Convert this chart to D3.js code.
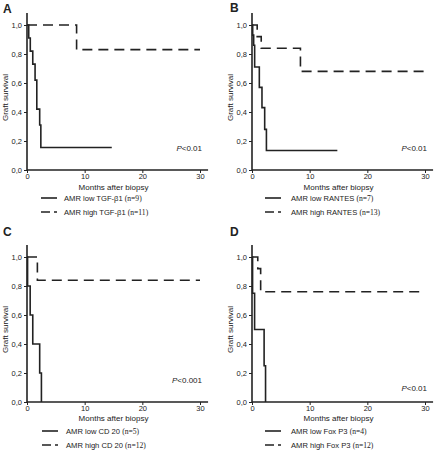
<!DOCTYPE html>
<html><head><meta charset="utf-8">
<script src="https://cdn.jsdelivr.net/npm/d3@7"></script>
<style>body{margin:0;background:#fff}svg{display:block}text{font-family:"Liberation Sans",Arial,sans-serif;fill:#222}</style>
</head><body><svg id="c" width="436" height="451"></svg>
<script>
const panelLabels = ["A","B","C","D"];
const xTicks = [0,10,20,30];
const yTicks = [0,0.2,0.4,0.6,0.8,1.0];
const yTickLabels = ["0,0","0,2","0,4","0,6","0,8","1,0"];
const xTitle = "Months after biopsy";
const yTitle = "Graft survival";
const pValues = ["<0.01","<0.01","<0.001","<0.01"];
const lowNames = ["AMR low TGF-β1 ","AMR low RANTES ","AMR low CD 20 ","AMR low Fox P3 "];
const highNames = ["AMR high TGF-β1 ","AMR high RANTES ","AMR high CD 20 ","AMR high Fox P3 "];
const lowN = ["(n=9)","(n=7)","(n=5)","(n=4)"];
const highN = ["(n=11)","(n=13)","(n=12)","(n=12)"];
// low groups: times (months) and survival
const lowTimes = [
  [0,0.3,0.57,1.0,1.4,1.7,2.2,2.4,14.7],
  [0,0.12,0.29,0.46,1.27,1.73,2.2,2.5,14.8],
  [0,0.1,0.55,1.0,2.2,2.5],
  [0,0.1,0.45,2.1,2.35]
];
const lowSurv = [
  [1,0.91,0.82,0.73,0.62,0.42,0.31,0.155,0.155],
  [1,0.93,0.86,0.71,0.57,0.43,0.28,0.135,0.135],
  [1,0.8,0.6,0.4,0.2,0],
  [1,0.75,0.5,0.25,0]
];
const highTimes = [
  [0,8.6,30],
  [0,0.9,1.6,8.4,30],
  [0,1.8,30],
  [0,1.0,1.5,30]
];
const highSurv = [
  [1,0.83,0.83],
  [1,0.92,0.84,0.68,0.68],
  [1,0.84,0.84],
  [1,0.92,0.76,0.76]
];

// layout per panel
const layout = [
  {lx:3, ly:13, ax:27, x30:200, y0:170, y1:25, legX:41, legT:64, leg1:198, leg2:212, titleY:190, ytitleX:8, pY:151},
  {lx:230, ly:12, ax:252, x30:425, y0:170, y1:25, legX:265, legT:291, leg1:198, leg2:212, titleY:190, ytitleX:233, pY:151},
  {lx:3, ly:236, ax:27, x30:200, y0:402, y1:257, legX:42, legT:66, leg1:431, leg2:445, titleY:421, ytitleX:8, pY:383},
  {lx:230, ly:236, ax:252, x30:425, y0:402, y1:257, legX:265, legT:291, leg1:431, leg2:445, titleY:421, ytitleX:233, pY:391}
];

const svg = d3.select("#c");
const col = "#222";

layout.forEach((L,i)=>{
  const x = d3.scaleLinear().domain([0,30]).range([L.ax, L.x30]);
  const y = d3.scaleLinear().domain([0,1]).range([L.y0, L.y1]);
  const g = svg.append("g");
  g.append("text").attr("x",L.lx).attr("y",L.ly).text(panelLabels[i])
    .attr("font-size",12).attr("font-weight","bold");
  // axes
  const xa = g.append("g").attr("transform",`translate(0,${L.y0})`)
    .call(d3.axisBottom(x).tickValues(xTicks).tickSize(3).tickPadding(1).tickFormat(d3.format("d")));
  xa.select(".domain").attr("d",`M${L.ax},0H${x(31.4)}`);
  const ya = g.append("g").attr("transform",`translate(${L.ax},0)`)
    .call(d3.axisLeft(y).tickValues(yTicks).tickSize(3).tickPadding(2).tickFormat((d,j)=>yTickLabels[j]));
  ya.select(".domain").attr("d",`M0,${y(1.083)}V${L.y0}`);
  [xa,ya].forEach(a=>{
    a.select(".domain").attr("stroke",col).attr("stroke-width",1.6);
    a.selectAll(".tick line").attr("stroke",col).attr("stroke-width",1);
    a.selectAll(".tick text").attr("font-size",7.5).attr("fill",col).attr("font-family","Liberation Sans, Arial, sans-serif");
  });
  g.append("text").attr("x",(L.ax+L.x30)/2).attr("y",L.titleY).attr("text-anchor","middle")
    .attr("font-size",8).text(xTitle);
  g.append("text").attr("transform",`translate(${L.ytitleX},${(L.y0+L.y1)/2}) rotate(-90)`)
    .attr("text-anchor","middle").attr("font-size",8).text(yTitle);
  // curves
  const line = d3.line().x(d=>x(d[0])).y(d=>y(d[1])).curve(d3.curveStepAfter);
  const lowD = lowTimes[i].map((t,k)=>[t,lowSurv[i][k]]);
  const highD = highTimes[i].map((t,k)=>[t,highSurv[i][k]]);
  g.append("path").attr("d",line(highD)).attr("fill","none").attr("stroke",col)
    .attr("stroke-width",1.6).attr("stroke-dasharray","10,6");
  g.append("path").attr("d",line(lowD)).attr("fill","none").attr("stroke",col)
    .attr("stroke-width",1.6);
  // p value
  const pt = g.append("text").attr("x",L.x30+2).attr("y",L.pY).attr("text-anchor","end").attr("font-size",8);
  pt.append("tspan").attr("font-style","italic").text("P");
  pt.append("tspan").text(pValues[i]);
  // legend
  g.append("line").attr("x1",L.legX).attr("x2",L.legX+16).attr("y1",L.leg1).attr("y2",L.leg1)
    .attr("stroke",col).attr("stroke-width",1.6);
  g.append("line").attr("x1",L.legX).attr("x2",L.legX+16).attr("y1",L.leg2).attr("y2",L.leg2)
    .attr("stroke",col).attr("stroke-width",1.6).attr("stroke-dasharray","9,4");
  [[L.leg1,lowNames[i],lowN[i]],[L.leg2,highNames[i],highN[i]]].forEach(r=>{
    const t = g.append("text").attr("x",L.legT).attr("y",r[0]+2.7).attr("font-size",7.6);
    t.append("tspan").text(r[1]);
    t.append("tspan").attr("font-family","Liberation Serif, Times New Roman, serif").attr("font-size",7.6).text(r[2]);
  });
});
</script></body></html>
